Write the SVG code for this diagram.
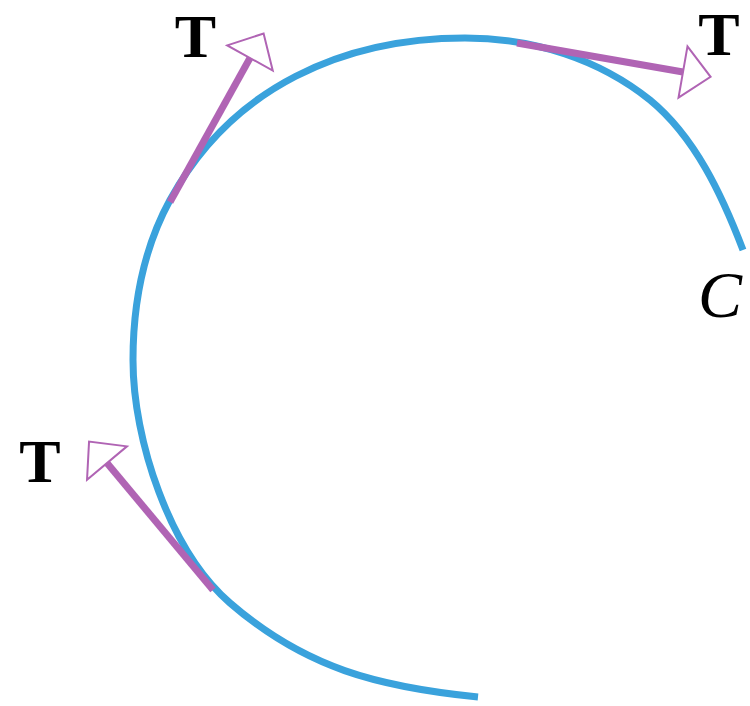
<svg xmlns="http://www.w3.org/2000/svg" width="750" height="706" viewBox="0 0 750 706">
  <style>
    .curve { fill: none; stroke: #3aa2dc; stroke-width: 7; stroke-linecap: butt; }
    .tan { fill: none; stroke: #b064b4; stroke-width: 7; stroke-linecap: butt; marker-end: url(#openArrow); }
    .lbl { font-family: "Liberation Serif", "Times New Roman", serif; font-size: 62px; fill: #000; }
    .bold { font-weight: bold; text-anchor: middle; }
    .ital { font-style: italic; font-size: 66px; }
  </style>
  <defs>
    <marker id="openArrow" markerUnits="userSpaceOnUse" markerWidth="40" markerHeight="60" refX="0" refY="0" orient="auto" overflow="visible">
      <path d="M0,-26 L28,0 L0,26 Z" fill="#ffffff" stroke="#b064b4" stroke-width="2" stroke-linejoin="miter"/>
    </marker>
  </defs>
  <rect width="750" height="706" fill="#ffffff"/>
  <g id="curve-C">
    <path class="curve" d="M478,697 C378,687 305,668 230,603 C169.6,550.6 133,440 133,360 C133,305 143.6,248.4 170,200 C232,86 345,38 465,38 C535,38 600,60 650,100 C695,137 722,195 743,250"/>
  </g>
  <g id="connectors">
    <line class="tan" x1="170" y1="202" x2="250" y2="58"/>
    <line class="tan" x1="517" y1="43" x2="683" y2="72"/>
    <line class="tan" x1="213" y1="590" x2="107" y2="463"/>
  </g>
  <g id="label-T1"><text class="lbl bold" x="195.5" y="57">T</text></g>
  <g id="label-T2"><text class="lbl bold" x="719" y="55">T</text></g>
  <g id="label-T3"><text class="lbl bold" x="40" y="482">T</text></g>
  <g id="label-C"><text class="lbl ital" x="698" y="317">C</text></g>
</svg>
